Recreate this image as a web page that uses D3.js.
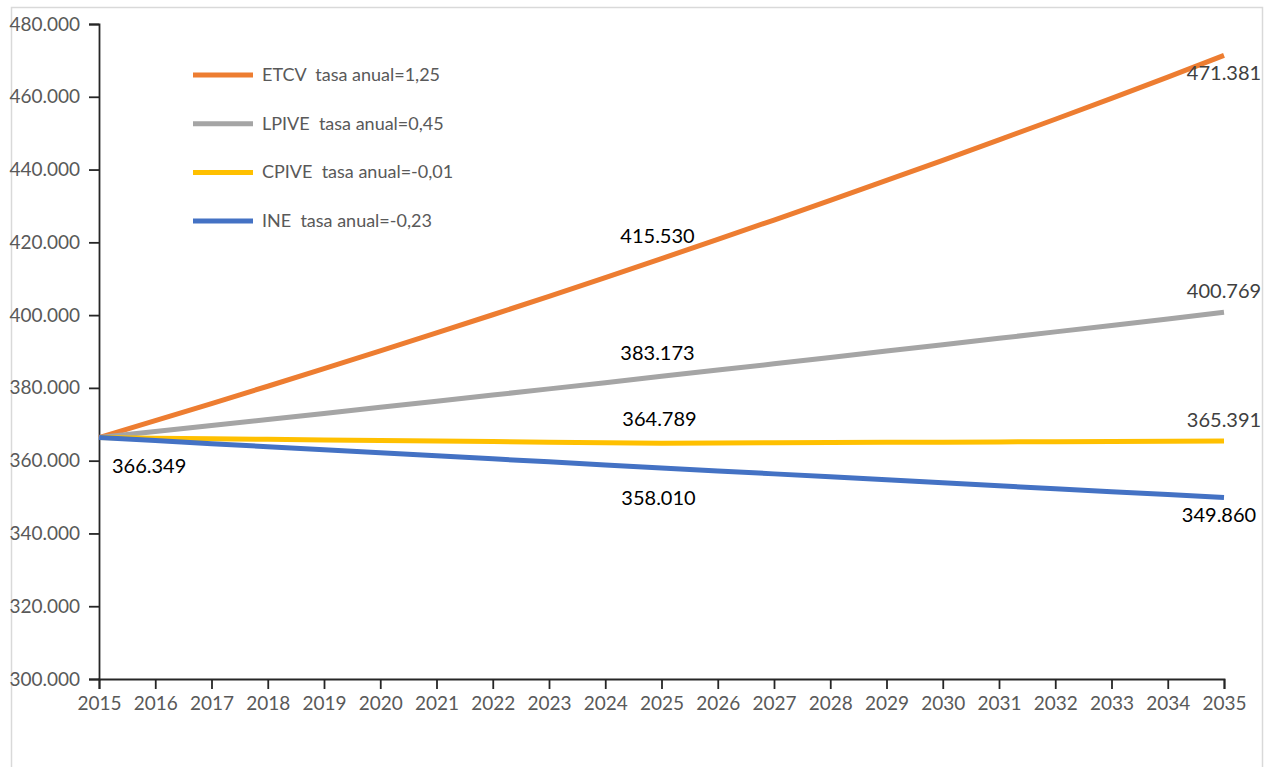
<!DOCTYPE html>
<html>
<head>
<meta charset="utf-8">
<script src="https://cdn.jsdelivr.net/npm/d3@7"></script>
<style>
  html, body { margin: 0; padding: 0; background: #fff; }
  svg { display: block; font-family: Lato, "Open Sans", sans-serif; }
</style>
</head>
<body>
<svg id="chart" width="1279" height="767"></svg>
<script>
const years = d3.range(2015, 2036);
const seriesNames = ["ETCV", "LPIVE", "CPIVE", "INE"];
const legendLabels = ["ETCV  tasa anual=1,25", "LPIVE  tasa anual=0,45", "CPIVE  tasa anual=-0,01", "INE  tasa anual=-0,23"];
const seriesColors = ["#ED7D31", "#A5A5A5", "#FFC000", "#4472C4"];

const etcv  = [366349, 370990, 375690, 380450, 385270, 390150, 395090, 400100, 405170, 410300, 415530,
               420800, 426130, 431530, 437000, 442530, 448140, 453820, 459570, 465390, 471381];
const lpive = [366349, 367996, 369650, 371310, 372980, 374660, 376340, 378030, 379730, 381440, 383173,
               384890, 386620, 388360, 390110, 391860, 393620, 395390, 397170, 398960, 400769];
const cpive = [366349, 366190, 366030, 365870, 365710, 365560, 365400, 365250, 365090, 364940, 364789,
               364850, 364910, 364970, 365030, 365090, 365150, 365210, 365270, 365330, 365391];
const ine   = [366349, 365510, 364670, 363830, 362990, 362160, 361330, 360500, 359670, 358840, 358010,
               357190, 356370, 355550, 354730, 353920, 353110, 352300, 351490, 350680, 349860];

const yTicks = d3.range(300000, 480001, 20000);

// labelled points: [series index, year, dx, dy, anchor, color]
const labelPoints = [
  [0, 2015, 13, 35, "start", "#000"],
  [0, 2025, -4, -16, "middle", "#000"],
  [1, 2025, -4, -16, "middle", "#000"],
  [2, 2025, -2, -17, "middle", "#000"],
  [3, 2025, -3, 37, "middle", "#000"],
  [0, 2035, 0, 25, "middle", "#404040"],
  [1, 2035, 0, -14, "middle", "#404040"],
  [2, 2035, 0, -14, "middle", "#404040"],
  [3, 2035, -5, 24, "middle", "#000"]
];

const allSeries = [etcv, lpive, cpive, ine];

const svg = d3.select("#chart");

// outer frame
svg.append("rect")
  .attr("x", 11.5).attr("y", 7.5)
  .attr("width", 1251).attr("height", 800)
  .attr("fill", "#fff").attr("stroke", "#d9d9d9").attr("stroke-width", 1.5);

const x = d3.scaleLinear().domain([2015, 2035]).range([99, 1224]);
const y = d3.scaleLinear().domain([300000, 480000]).range([679, 24]);

const loc = d3.formatLocale({ decimal: ",", thousands: ".", grouping: [3], currency: ["", ""] });
const fmt = loc.format(",d");

// y axis
const yAxis = svg.append("g").attr("transform", `translate(${x(2015)},0)`)
  .call(d3.axisLeft(y).tickValues(yTicks).tickFormat(fmt).tickSize(10).tickPadding(9));
yAxis.selectAll("text").attr("font-size", 19).attr("fill", "#595959").attr("font-family", "Lato");

// x axis
const xAxis = svg.append("g").attr("transform", `translate(0,${y(300000)})`)
  .call(d3.axisBottom(x).tickValues(years).tickFormat(d3.format("d")).tickSize(10).tickPadding(8));
xAxis.selectAll("text").attr("font-size", 19).attr("fill", "#595959").attr("font-family", "Lato");

[yAxis, xAxis].forEach(a => {
  a.select(".domain").attr("stroke", "#262626").attr("stroke-width", 1.8);
  a.selectAll(".tick line").attr("stroke", "#262626").attr("stroke-width", 1.8);
});

// lines
const line = d3.line().x((d, i) => x(years[i])).y(d => y(d));
allSeries.forEach((s, i) => {
  svg.append("path")
    .datum(s)
    .attr("d", line)
    .attr("fill", "none")
    .attr("stroke", seriesColors[i])
    .attr("stroke-width", 5)
    .attr("stroke-linejoin", "round");
});

// data labels
labelPoints.forEach(([si, yr, dx, dy, anchor, col]) => {
  const v = allSeries[si][years.indexOf(yr)];
  svg.append("text")
    .attr("x", x(yr) + dx)
    .attr("y", y(v) + dy)
    .attr("text-anchor", anchor)
    .attr("font-size", 20)
    .attr("fill", col)
    .text(fmt(v));
});

// legend
const legend = svg.append("g");
legendLabels.forEach((lab, i) => {
  const ly = 75 + i * 48.7;
  legend.append("line")
    .attr("x1", 193).attr("x2", 253)
    .attr("y1", ly).attr("y2", ly)
    .attr("stroke", seriesColors[i]).attr("stroke-width", 5);
  legend.append("text")
    .attr("x", 262).attr("y", ly + 6)
    .attr("font-size", 18)
    .attr("fill", "#595959")
    .style("white-space", "pre")
    .text(lab);
});
</script>
</body>
</html>
